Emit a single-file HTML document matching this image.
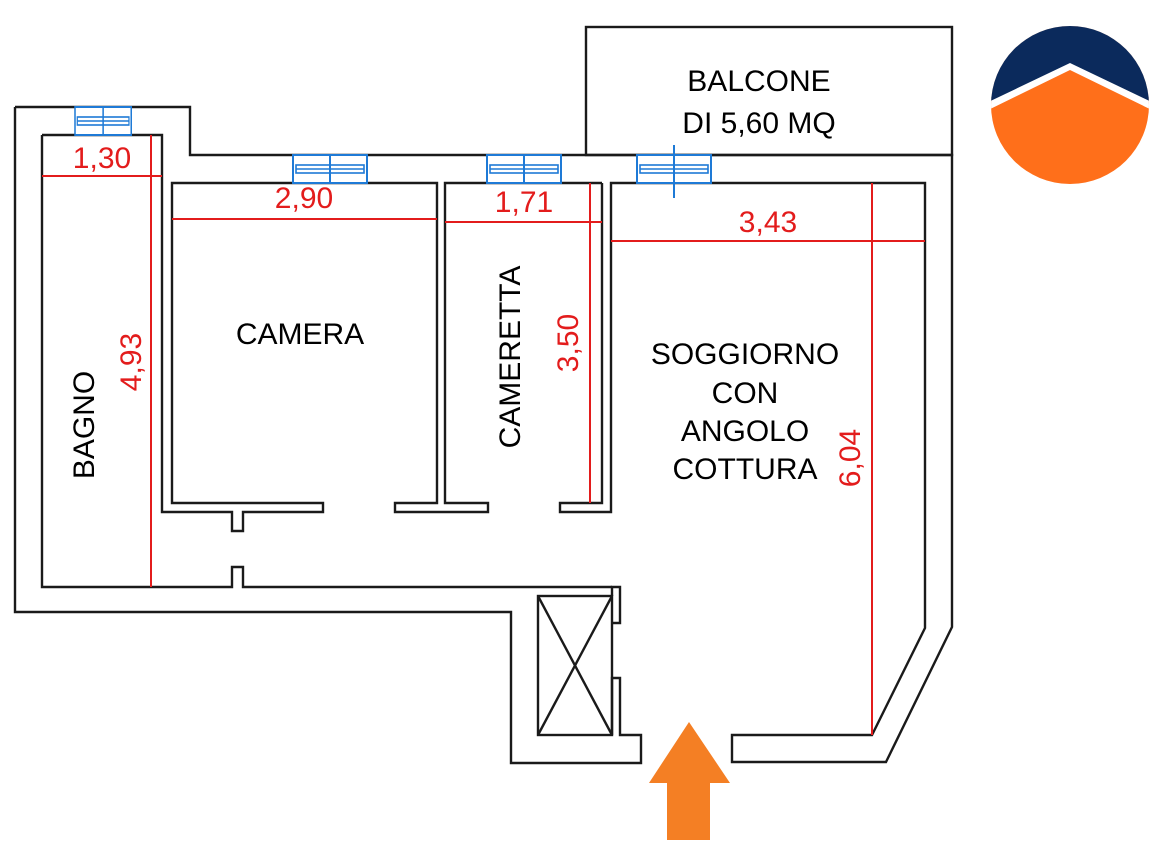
<!DOCTYPE html>
<html><head><meta charset="utf-8"><style>
html,body{margin:0;padding:0;background:#fff;}
svg{display:block;}
text{font-family:"Liberation Sans",Arial,sans-serif;}
</style></head><body>
<svg width="1154" height="855" viewBox="0 0 1154 855" xmlns="http://www.w3.org/2000/svg">
<defs>
<clipPath id="cc"><circle cx="1070" cy="105" r="79"/></clipPath>
<g id="win">
<rect x="0" y="0" width="74" height="28" fill="#fff" stroke="#1e7ad6" stroke-width="2"/>
<line x1="37" y1="0" x2="37" y2="28" stroke="#1e7ad6" stroke-width="2"/>
<rect x="3" y="10" width="68" height="8" fill="none" stroke="#1e7ad6" stroke-width="1.6"/>
<line x1="3" y1="14" x2="71" y2="14" stroke="#1e7ad6" stroke-width="1.4"/>
</g>
</defs>
<g fill="none" stroke="#1a1a1a" stroke-width="2.4">
<rect x="586" y="27" width="366" height="128"/>
<polyline points="15,107 190,107 190,155 952,155 952,627 886,762 732,762 732,735 872,735 925,628 925,183 611,183 611,512 560,512 560,503 602,503 602,183"/>
<polyline points="15,107 15,612 511,612 511,763 641,763 641,735 620,735 620,678 612,678 612,735"/>
<rect x="538" y="596" width="74" height="139"/>
<line x1="538" y1="596" x2="612" y2="735"/><line x1="612" y1="596" x2="538" y2="735"/>
<polyline points="612,596 612,587 620,587 620,623 612,623"/>
<polyline points="42,135 42,587 232,587 232,567 243,567 243,587 612,587"/>
<polyline points="42,135 162,135 162,512 232,512 232,531 243,531 243,512 323,512 323,503 172,503 172,183 437,183 437,503 395,503 395,512 488,512 488,503 445,503 445,183 602,183"/>
</g>
<use href="#win" transform="translate(75,107) scale(0.76,1)"/>
<use href="#win" transform="translate(293,155)"/>
<use href="#win" transform="translate(487,155)"/>
<use href="#win" transform="translate(637,155)"/>
<line x1="674" y1="145" x2="674" y2="198" stroke="#1e7ad6" stroke-width="2"/>
<g stroke="#e31c1c" stroke-width="2">
<line x1="42" y1="176" x2="162" y2="176"/>
<line x1="151" y1="135" x2="151" y2="587"/>
<line x1="172" y1="219" x2="437" y2="219"/>
<line x1="445" y1="222" x2="602" y2="222"/>
<line x1="590" y1="183" x2="590" y2="503"/>
<line x1="611" y1="241" x2="925" y2="241"/>
<line x1="872" y1="183" x2="872" y2="735"/>
</g>
<g fill="#e31c1c" font-size="30" text-anchor="middle">
<text x="102" y="168">1,30</text>
<text x="304" y="208">2,90</text>
<text x="524" y="212">1,71</text>
<text x="768" y="232">3,43</text>
<text transform="translate(141,362) rotate(-90)">4,93</text>
<text transform="translate(578,343) rotate(-90)">3,50</text>
<text transform="translate(860,458) rotate(-90)">6,04</text>
</g>
<g fill="#000" font-size="30" text-anchor="middle">
<text x="759" y="91">BALCONE</text>
<text x="759" y="133">DI 5,60 MQ</text>
<text x="300" y="344">CAMERA</text>
<text transform="translate(94,425) rotate(-90)">BAGNO</text>
<text transform="translate(520,357) rotate(-90)">CAMERETTA</text>
<text x="745" y="364">SOGGIORNO</text>
<text x="745" y="403">CON</text>
<text x="745" y="441">ANGOLO</text>
<text x="745" y="479">COTTURA</text>
</g>
<polygon points="689,722 730,783 710,783 710,840 667,840 667,783 649,783" fill="#f47f24"/>
<g clip-path="url(#cc)">
<rect x="980" y="20" width="180" height="180" fill="#ff6f1a"/>
<polygon points="980,20 1160,20 1160,114 1070,70 980,114" fill="#fff"/>
<polygon points="980,20 1160,20 1160,106 1070,63 980,106" fill="#0b2a5c"/>
</g>
</svg>
</body></html>
